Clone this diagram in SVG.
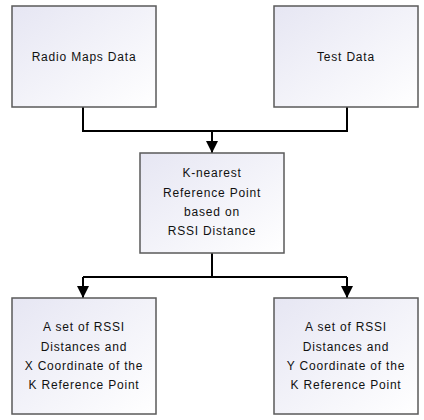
<svg xmlns="http://www.w3.org/2000/svg" width="424" height="420" viewBox="0 0 424 420">
<defs>
<linearGradient id="g" x1="0" y1="0" x2="1" y2="1">
<stop offset="0" stop-color="#e6e6f3"/>
<stop offset="1" stop-color="#ffffff"/>
</linearGradient>
<marker id="arr" markerWidth="12" markerHeight="12" refX="12" refY="6" orient="auto" markerUnits="userSpaceOnUse" viewBox="0 0 12 12">
<path d="M0,0 L12,6 L0,12 Z" fill="#000"/>
</marker>
</defs>
<style>
.box{fill:url(#g);stroke:#5a5a5a;stroke-width:1.5}
.t{font-family:"Liberation Sans",Arial,sans-serif;font-size:12px;letter-spacing:0.8px;fill:#111;text-anchor:middle}
.c{fill:none;stroke:#000;stroke-width:2}
</style>
<rect width="424" height="420" fill="#fff"/>
<g id="connectors">
<path class="c" d="M83,107 V131 H347 V107"/>
<path class="c" d="M212,131 V153" marker-end="url(#arr)"/>
<path class="c" d="M212,253 V277"/>
<path class="c" d="M83,277 H347"/>
<path class="c" d="M83,277 V298" marker-end="url(#arr)"/>
<path class="c" d="M347,277 V298" marker-end="url(#arr)"/>
</g>
<g id="radio">
<rect class="box" x="12" y="6" width="144" height="101"/>
<text class="t" x="84" y="61">Radio Maps Data</text>
</g>
<g id="test">
<rect class="box" x="274" y="6" width="144" height="101"/>
<text class="t" x="346" y="61">Test Data</text>
</g>
<g id="knn">
<rect class="box" x="140" y="153" width="144" height="100"/>
<text class="t" x="212" y="177">K-nearest</text>
<text class="t" x="212" y="197">Reference Point</text>
<text class="t" x="212" y="216">based on</text>
<text class="t" x="212" y="235">RSSI Distance</text>
</g>
<g id="xcoord">
<rect class="box" x="12" y="298" width="144" height="116"/>
<text class="t" x="84" y="331">A set of RSSI</text>
<text class="t" x="84" y="351">Distances and</text>
<text class="t" x="84" y="370">X Coordinate of the</text>
<text class="t" x="84" y="389">K Reference Point</text>
</g>
<g id="ycoord">
<rect class="box" x="274" y="298" width="144" height="116"/>
<text class="t" x="346" y="331">A set of RSSI</text>
<text class="t" x="346" y="351">Distances and</text>
<text class="t" x="346" y="370">Y Coordinate of the</text>
<text class="t" x="346" y="389">K Reference Point</text>
</g>
</svg>
